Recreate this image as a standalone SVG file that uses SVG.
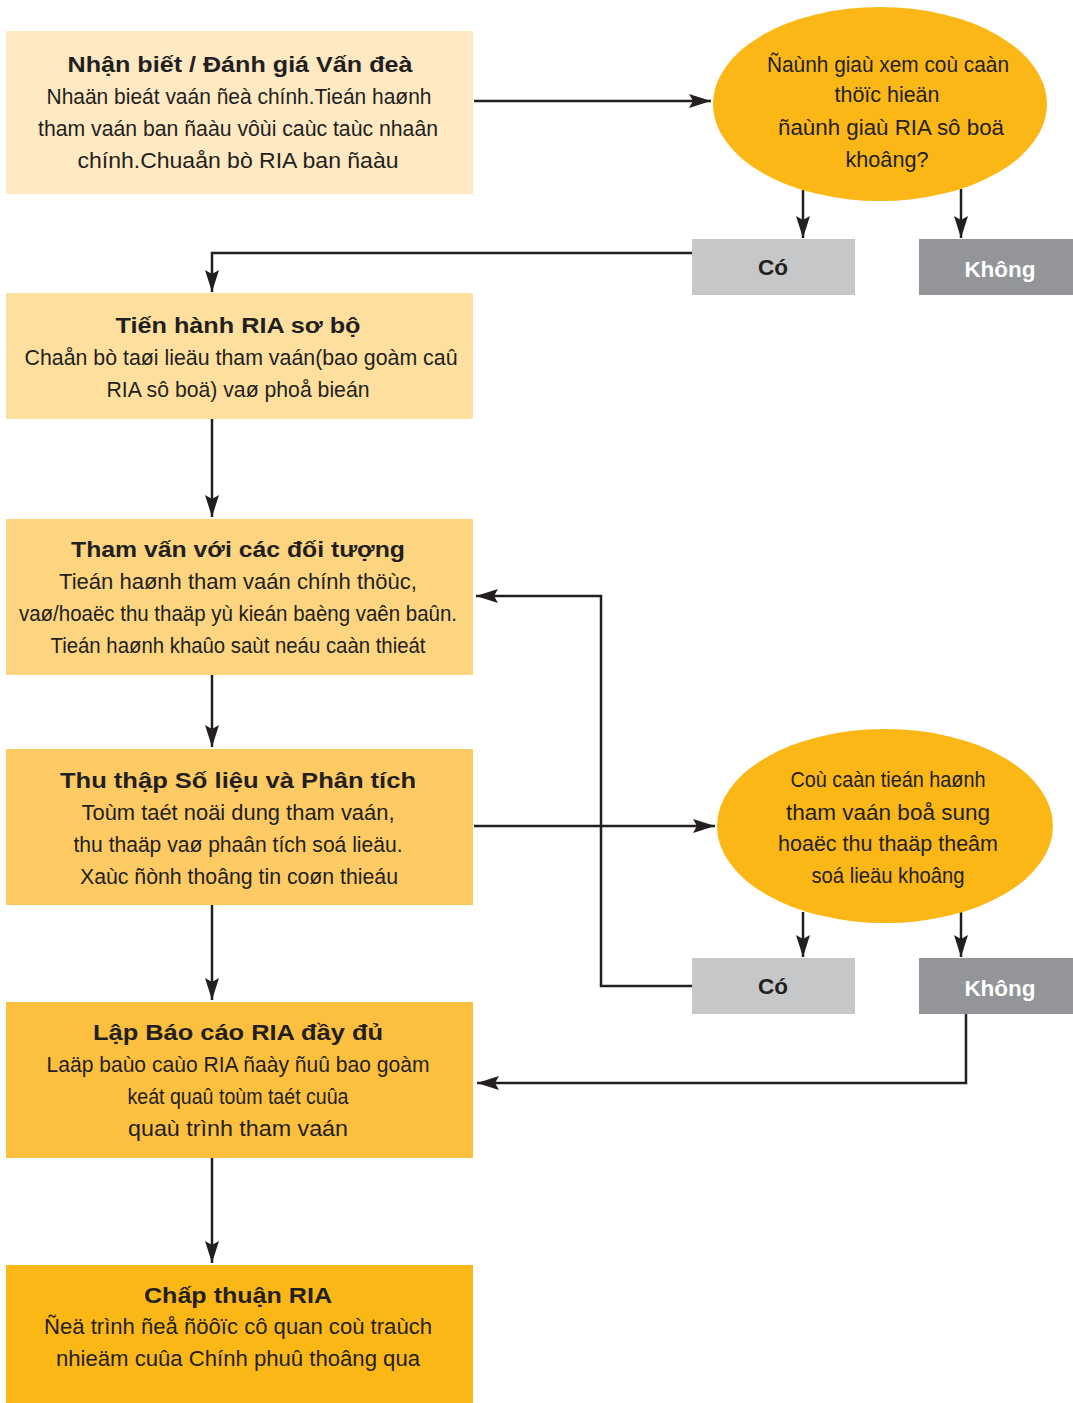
<svg xmlns="http://www.w3.org/2000/svg" width="1073" height="1403" viewBox="0 0 1073 1403">
<defs>
<style>
.t{font-family:"Liberation Sans",Arial,sans-serif;font-size:21.5px;fill:#231F20;text-anchor:middle}
.b{font-weight:bold}
.w{fill:#FFFFFF}
.c{fill:none;stroke:#231F20;stroke-width:2.5}
</style>
<marker id="ah" markerUnits="userSpaceOnUse" markerWidth="22" markerHeight="14" refX="22" refY="7" orient="auto">
<path d="M0,0 L22,7 L0,14 L4,7 Z" fill="#231F20"/>
</marker>
</defs>
<rect width="1073" height="1403" fill="#FFFFFF"/>

<g id="connectors">
<path class="c" d="M474,101 H711" marker-end="url(#ah)"/>
<path class="c" d="M803,190 V238" marker-end="url(#ah)"/>
<path class="c" d="M961,189 V238" marker-end="url(#ah)"/>
<path class="c" d="M692,253 H212 V292" marker-end="url(#ah)"/>
<path class="c" d="M212,419 V517" marker-end="url(#ah)"/>
<path class="c" d="M212,675 V747" marker-end="url(#ah)"/>
<path class="c" d="M212,905 V1000" marker-end="url(#ah)"/>
<path class="c" d="M212,1158 V1263" marker-end="url(#ah)"/>
<path class="c" d="M474,826 H715" marker-end="url(#ah)"/>
<path class="c" d="M692,986 H601 V596 H476" marker-end="url(#ah)"/>
<path class="c" d="M803,912 V957" marker-end="url(#ah)"/>
<path class="c" d="M961,912 V957" marker-end="url(#ah)"/>
<path class="c" d="M966,1014 V1083 H477" marker-end="url(#ah)"/>
</g>

<g id="n1">
<rect x="6" y="31" width="467" height="163" fill="#FEE9C3"/>
<text class="t b" x="240" y="72" textLength="345" lengthAdjust="spacingAndGlyphs">Nhận biết / Đánh giá Vấn đeà</text>
<text class="t" x="239" y="104" textLength="385" lengthAdjust="spacingAndGlyphs">Nhaän bieát vaán ñeà chính.Tieán haønh</text>
<text class="t" x="238" y="136" textLength="400" lengthAdjust="spacingAndGlyphs">tham vaán ban ñaàu vôùi caùc taùc nhaân</text>
<text class="t" x="238" y="168" textLength="321" lengthAdjust="spacingAndGlyphs">chính.Chuaån bò RIA ban ñaàu</text>
</g>

<g id="d1">
<ellipse cx="880" cy="104" rx="167" ry="97" fill="#FBB716"/>
<text class="t" x="888" y="72" textLength="242" lengthAdjust="spacingAndGlyphs">Ñaùnh giaù xem coù caàn</text>
<text class="t" x="887" y="102" textLength="105" lengthAdjust="spacingAndGlyphs">thöïc hieän</text>
<text class="t" x="891" y="135" textLength="226" lengthAdjust="spacingAndGlyphs">ñaùnh giaù RIA sô boä</text>
<text class="t" x="887" y="167" textLength="83" lengthAdjust="spacingAndGlyphs">khoâng?</text>
</g>

<g id="yes1">
<rect x="692" y="239" width="163" height="56" fill="#C6C7C9"/>
<text class="t b" x="773" y="275" style="font-size:22.5px">Có</text>
</g>
<g id="no1">
<rect x="919" y="239" width="154" height="56" fill="#939598"/>
<text class="t b w" x="1000" y="277" style="font-size:22.5px">Không</text>
</g>

<g id="n2">
<rect x="6" y="293" width="467" height="126" fill="#FEDF9E"/>
<text class="t b" x="238" y="333" textLength="245" lengthAdjust="spacingAndGlyphs">Tiến hành RIA sơ bộ</text>
<text class="t" x="241" y="365" textLength="433" lengthAdjust="spacingAndGlyphs">Chaån bò taøi lieäu tham vaán(bao goàm caû</text>
<text class="t" x="238" y="397" textLength="263" lengthAdjust="spacingAndGlyphs">RIA sô boä) vaø phoå bieán</text>
</g>

<g id="n3">
<rect x="6" y="519" width="467" height="156" fill="#FDD580"/>
<text class="t b" x="238" y="557" textLength="334" lengthAdjust="spacingAndGlyphs">Tham vấn với các đối tượng</text>
<text class="t" x="238" y="589" textLength="358" lengthAdjust="spacingAndGlyphs">Tieán haønh tham vaán chính thöùc,</text>
<text class="t" x="238" y="621" textLength="438" lengthAdjust="spacingAndGlyphs">vaø/hoaëc thu thaäp yù kieán baèng vaên baûn.</text>
<text class="t" x="238" y="653" textLength="375" lengthAdjust="spacingAndGlyphs">Tieán haønh khaûo saùt neáu caàn thieát</text>
</g>

<g id="n4">
<rect x="6" y="749" width="467" height="156" fill="#FDCA64"/>
<text class="t b" x="238" y="788" textLength="356" lengthAdjust="spacingAndGlyphs">Thu thập Số liệu và Phân tích</text>
<text class="t" x="238" y="820" textLength="313" lengthAdjust="spacingAndGlyphs">Toùm taét noäi dung tham vaán,</text>
<text class="t" x="238" y="852" textLength="329" lengthAdjust="spacingAndGlyphs">thu thaäp vaø phaân tích soá lieäu.</text>
<text class="t" x="239" y="884" textLength="318" lengthAdjust="spacingAndGlyphs">Xaùc ñònh thoâng tin coøn thieáu</text>
</g>

<g id="d2">
<ellipse cx="885" cy="826" rx="168" ry="97" fill="#FBB716"/>
<text class="t" x="888" y="787" textLength="195" lengthAdjust="spacingAndGlyphs">Coù caàn tieán haønh</text>
<text class="t" x="888" y="820" textLength="204" lengthAdjust="spacingAndGlyphs">tham vaán boå sung</text>
<text class="t" x="888" y="851" textLength="220" lengthAdjust="spacingAndGlyphs">hoaëc thu thaäp theâm</text>
<text class="t" x="888" y="883" textLength="153" lengthAdjust="spacingAndGlyphs">soá lieäu khoâng</text>
</g>

<g id="yes2">
<rect x="692" y="958" width="163" height="56" fill="#C6C7C9"/>
<text class="t b" x="773" y="994" style="font-size:22.5px">Có</text>
</g>
<g id="no2">
<rect x="919" y="958" width="154" height="56" fill="#939598"/>
<text class="t b w" x="1000" y="996" style="font-size:22.5px">Không</text>
</g>

<g id="n5">
<rect x="6" y="1002" width="467" height="156" fill="#FCC03E"/>
<text class="t b" x="238" y="1040" textLength="290" lengthAdjust="spacingAndGlyphs">Lập Báo cáo RIA đầy đủ</text>
<text class="t" x="238" y="1072" textLength="383" lengthAdjust="spacingAndGlyphs">Laäp baùo caùo RIA ñaày ñuû bao goàm</text>
<text class="t" x="238" y="1104" textLength="221" lengthAdjust="spacingAndGlyphs">keát quaû toùm taét cuûa</text>
<text class="t" x="238" y="1136" textLength="220" lengthAdjust="spacingAndGlyphs">quaù trình tham vaán</text>
</g>

<g id="n6">
<rect x="6" y="1265" width="467" height="138" fill="#FBB716"/>
<text class="t b" x="238" y="1303" textLength="188" lengthAdjust="spacingAndGlyphs">Chấp thuận RIA</text>
<text class="t" x="238" y="1334" textLength="388" lengthAdjust="spacingAndGlyphs">Ñeä trình ñeå ñöôïc cô quan coù traùch</text>
<text class="t" x="238" y="1366" textLength="364" lengthAdjust="spacingAndGlyphs">nhieäm cuûa Chính phuû thoâng qua</text>
</g>
</svg>
